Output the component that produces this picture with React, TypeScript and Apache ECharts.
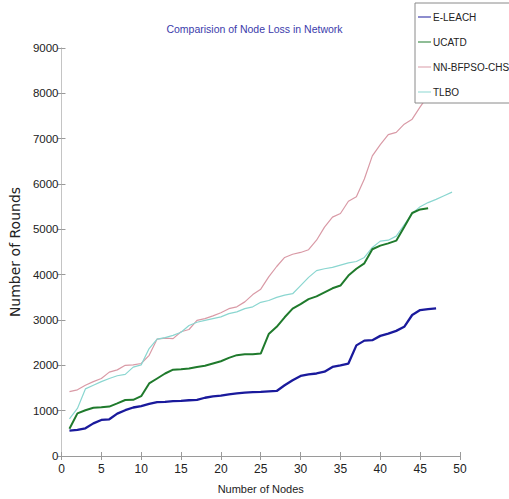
import React, { useEffect, useRef } from "react";
import * as echarts from "echarts";

const titleText = "Comparision of Node Loss in Network";
const xName = "Number of Nodes";
const yName = "Number of Rounds";
const seriesNames = ["E-LEACH", "UCATD", "NN-BFPSO-CHS", "TLBO"];

const eLeach = [560, 575, 610, 720, 795, 810, 935, 1010, 1070, 1100, 1150, 1190, 1195, 1210, 1215, 1230, 1240, 1285, 1315, 1330, 1360, 1380, 1400, 1410, 1415, 1425, 1435, 1560, 1670, 1765, 1800, 1820, 1860, 1965, 2000, 2040, 2440, 2545, 2555, 2650, 2700, 2760, 2850, 3110, 3220, 3240, 3255];
const ucatd = [600, 940, 1010, 1065, 1075, 1090, 1160, 1235, 1240, 1320, 1600, 1710, 1820, 1905, 1915, 1930, 1965, 1990, 2040, 2090, 2165, 2225, 2245, 2245, 2260, 2690, 2850, 3060, 3250, 3350, 3460, 3520, 3610, 3700, 3760, 3980, 4130, 4250, 4560, 4640, 4690, 4750, 5050, 5360, 5440, 5465];
const nnBfpso = [1420, 1460, 1560, 1640, 1710, 1850, 1900, 2000, 2010, 2040, 2220, 2580, 2600, 2590, 2740, 2790, 2990, 3030, 3090, 3160, 3250, 3290, 3400, 3560, 3680, 3950, 4180, 4380, 4450, 4490, 4550, 4760, 5050, 5270, 5350, 5620, 5720, 6110, 6620, 6870, 7090, 7140, 7320, 7430, 7700, 7950, 8200];
const tlbo = [820, 1050, 1480, 1560, 1640, 1710, 1770, 1800, 1960, 2010, 2370, 2580, 2610, 2660, 2730, 2880, 2950, 2990, 3030, 3070, 3140, 3180, 3250, 3290, 3390, 3430, 3500, 3550, 3580, 3760, 3940, 4090, 4130, 4160, 4210, 4260, 4290, 4380, 4600, 4740, 4760, 4850, 5100, 5350, 5500, 5590, 5660, 5740, 5820];

const colors = ["#1a1a9c", "#1f7a2c", "#d99aa6", "#8ad6d0"];
const widths = [2.3, 2, 1.2, 1.2];

const sans = "'Liberation Sans', Arial, sans-serif";

const toPairs = (arr: number[]) => arr.map((v, i) => [i + 1, v]);

export default function App() {
  const ref = useRef<HTMLDivElement>(null);
  useEffect(() => {
    if (!ref.current) return;
    const chart = echarts.init(ref.current, null, { renderer: "svg" });
    const allData = [eLeach, ucatd, nnBfpso, tlbo];
    const axisLineGrey = { lineStyle: { color: "#9a9a9a", width: 1 } };
    const tickIn = { show: true, inside: true, length: 4, lineStyle: { color: "#9a9a9a" } };
    chart.setOption({
      animation: false,
      backgroundColor: "#ffffff",
      title: {
        text: titleText,
        left: "center",
        top: 18,
        textStyle: { fontFamily: sans, fontSize: 10.5, fontWeight: "normal", color: "#3b3bab" },
      },
      legend: {
        left: 415,
        top: 3,
        orient: "vertical",
        itemWidth: 13,
        itemHeight: 10,
        itemGap: 15,
        padding: [9, 10, 6, 3],
        backgroundColor: "#ffffff",
        borderColor: "#8a8a8a",
        borderWidth: 1,
        borderRadius: 0,
        icon: "path://M0,5 L13,5 L13,6 L0,6 Z",
        textStyle: { fontFamily: sans, fontSize: 10, color: "#222", padding: [0, 0, 0, -3] },
        data: seriesNames,
      },
      grid: { left: 45, right: 49, top: 48, bottom: 41 },
      xAxis: [
        {
          type: "value",
          min: 0,
          max: 50,
          interval: 5,
          name: xName,
          nameLocation: "middle",
          nameGap: 27,
          nameTextStyle: { fontFamily: sans, fontSize: 11, color: "#222" },
          axisLine: axisLineGrey,
          axisTick: tickIn,
          axisLabel: { fontFamily: sans, fontSize: 12, color: "#222", margin: 7 },
          splitLine: { show: false },
        },
        {
          type: "value",
          position: "top",
          min: 0,
          max: 50,
          interval: 5,
          axisLine: axisLineGrey,
          axisTick: tickIn,
          axisLabel: { show: false },
          splitLine: { show: false },
        },
      ],
      yAxis: [
        {
          type: "value",
          min: 0,
          max: 9000,
          interval: 1000,
          name: yName,
          nameLocation: "middle",
          nameGap: 27,
          nameTextStyle: { fontFamily: "'DejaVu Sans', sans-serif", fontSize: 14, color: "#222" },
          axisLine: { lineStyle: { color: "#c4c4c4", width: 1 } },
          axisTick: tickIn,
          axisLabel: {
            fontFamily: sans,
            fontSize: 11.5,
            color: "#222",
            margin: 3,
            formatter: (v: number) => String(v),
          },
          splitLine: { show: false },
        },
        {
          type: "value",
          position: "right",
          min: 0,
          max: 9000,
          interval: 1000,
          axisLine: { show: true, lineStyle: { color: "#c4c4c4", width: 1 } },
          axisTick: tickIn,
          axisLabel: { show: false },
          splitLine: { show: false },
        },
      ],
      series: seriesNames.map((name, i) => ({
        name,
        type: "line",
        xAxisIndex: 0,
        yAxisIndex: 0,
        data: toPairs(allData[i]),
        showSymbol: false,
        symbol: "none",
        lineStyle: { color: colors[i], width: widths[i] },
        itemStyle: { color: colors[i] },
        z: i < 2 ? 3 : 2,
      })),
    });
    return () => chart.dispose();
  }, []);
  return <div ref={ref} style={{ width: 509, height: 499, position: "absolute", left: 0, top: 0 }} />;
}
